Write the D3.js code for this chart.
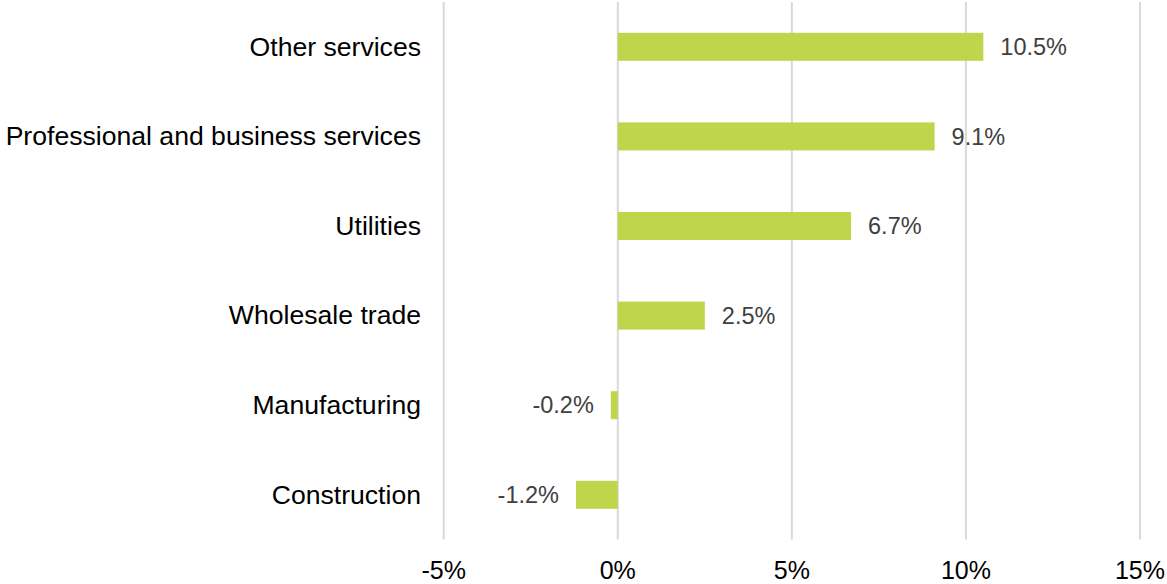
<!DOCTYPE html>
<html>
<head>
<meta charset="utf-8">
<script src="https://cdn.jsdelivr.net/npm/d3@7"></script>
<style>
  html, body { margin: 0; padding: 0; background: #fff; }
  svg { display: block; font-family: "Liberation Sans", Arial, sans-serif; }
</style>
</head>
<body>
<svg id="chart" width="1167" height="584"></svg>
<script>
// Employment change by industry
const categories = [
  "Other services",
  "Professional and business services",
  "Utilities",
  "Wholesale trade",
  "Manufacturing",
  "Construction"
];
const values = [10.5, 9.1, 6.7, 2.5, -0.2, -1.2];
const tickValues = [-5, 0, 5, 10, 15];

const width = 1167, height = 584;
const plot = { left: 443.7, right: 1140, top: 2, bottom: 539.6 };

const svg = d3.select("#chart");

const x = d3.scaleLinear().domain([-5, 15]).range([plot.left, plot.right]);
const y = d3.scaleBand()
  .domain(categories)
  .range([plot.top, plot.bottom])
  .paddingInner(0.6875)
  .paddingOuter(0.34375);

// vertical gridlines
svg.append("g")
  .selectAll("line")
  .data(tickValues)
  .join("line")
  .attr("x1", d => x(d)).attr("x2", d => x(d))
  .attr("y1", plot.top).attr("y2", plot.bottom)
  .attr("stroke", "#d9d9d9")
  .attr("stroke-width", 2);

// x tick labels
svg.append("g")
  .selectAll("text")
  .data(tickValues)
  .join("text")
  .attr("x", d => x(d))
  .attr("y", 579)
  .attr("text-anchor", "middle")
  .attr("font-size", 25)
  .attr("fill", "#000")
  .text(d => d + "%");

const rows = categories.map((c, i) => ({ c, v: values[i] }));

// bars
svg.append("g")
  .selectAll("rect")
  .data(rows)
  .join("rect")
  .attr("x", d => x(Math.min(0, d.v)))
  .attr("y", d => y(d.c))
  .attr("width", d => Math.abs(x(d.v) - x(0)))
  .attr("height", y.bandwidth())
  .attr("fill", "#bfd54c");

// category labels
svg.append("g")
  .selectAll("text")
  .data(rows)
  .join("text")
  .attr("x", 421)
  .attr("y", d => y(d.c) + y.bandwidth() / 2)
  .attr("dy", "0.33em")
  .attr("text-anchor", "end")
  .attr("font-size", 26.6)
  .attr("fill", "#000")
  .text(d => d.c);

// value labels
svg.append("g")
  .selectAll("text")
  .data(rows)
  .join("text")
  .attr("x", d => d.v >= 0 ? x(d.v) + 17 : x(d.v) - 17)
  .attr("y", d => y(d.c) + y.bandwidth() / 2)
  .attr("dy", "0.35em")
  .attr("text-anchor", d => d.v >= 0 ? "start" : "end")
  .attr("font-size", 23.5)
  .attr("fill", "#404040")
  .text(d => d.v.toFixed(1) + "%");
</script>
</body>
</html>
